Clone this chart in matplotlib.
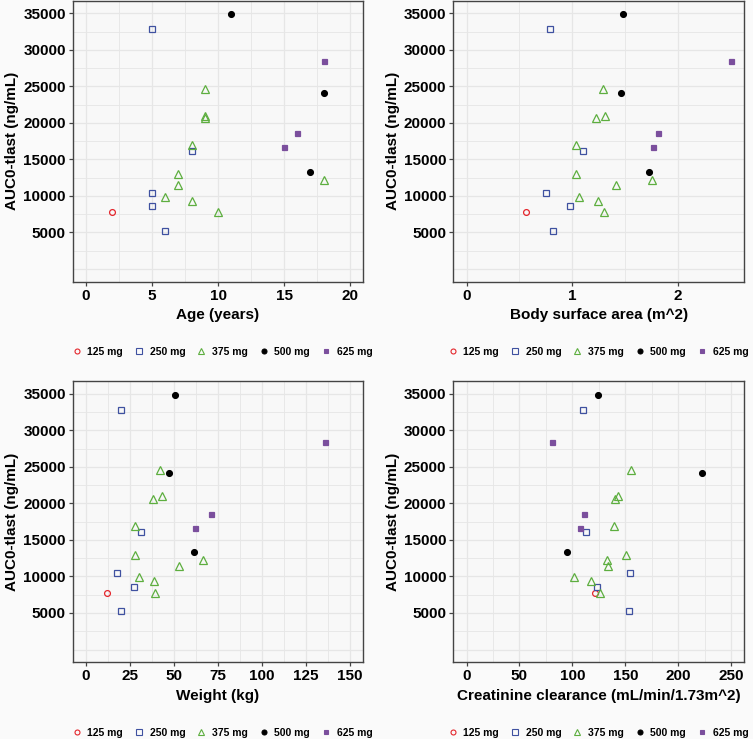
import numpy as np
import matplotlib
matplotlib.use('Agg')
import matplotlib.pyplot as plt
from matplotlib.lines import Line2D

# one entry per patient
dose = ['125 mg',
        '250 mg', '250 mg', '250 mg', '250 mg', '250 mg',
        '375 mg', '375 mg', '375 mg', '375 mg', '375 mg',
        '375 mg', '375 mg', '375 mg', '375 mg', '375 mg',
        '500 mg', '500 mg', '500 mg',
        '625 mg', '625 mg', '625 mg']
auc = [7750,
       32800, 10450, 8550, 5250, 16100,
       24600, 21000, 20600, 16900, 13000, 11450, 9900, 9350, 7800, 12200,
       34900, 24150, 13300,
       28450, 18600, 16650]
age = [2,
       5, 5, 5, 6, 8,
       9, 9, 9, 8, 7, 7, 6, 8, 10, 18,
       11, 18, 17,
       18, 16, 15]
bsa = [0.56,
       0.79, 0.75, 0.98, 0.82, 1.10,
       1.29, 1.31, 1.22, 1.03, 1.03, 1.41, 1.06, 1.24, 1.30, 1.75,
       1.48, 1.46, 1.72,
       2.50, 1.81, 1.76]
weight = [11.7,
          20.0, 17.4, 27.4, 20.2, 31.0,
          41.8, 43.1, 38.0, 27.8, 28.0, 52.7, 29.9, 38.4, 39.3, 66.5,
          50.8, 47.0, 61.6,
          136.0, 70.8, 62.2]
crcl = [121.6,
        110.0, 154.4, 123.1, 153.2, 113.1,
        155.4, 142.9, 140.4, 139.1, 151.0, 133.8, 101.5, 117.5, 126.3, 132.5,
        124.4, 222.4, 95.2,
        81.1, 111.2, 106.8]

dose_levels = ['125 mg', '250 mg', '375 mg', '500 mg', '625 mg']
colors = ['#E4262C', '#3F51A0', '#5DAE3F', '#000000', '#7B4F9D']
markers = ['o', 's', '^', 'o', 's']
filled = [False, False, False, True, True]
msize = [4.2, 4.6, 5.2, 4.2, 3.6]

panels = [
    (age, 'Age (years)', (-1, 21), [0, 5, 10, 15, 20], 2.5),
    (bsa, 'Body surface area (m^2)', (-0.125, 2.625), [0, 1, 2], 0.5),
    (weight, 'Weight (kg)', (-7.5, 157.5), [0, 25, 50, 75, 100, 125, 150], 12.5),
    (crcl, 'Creatinine clearance (mL/min/1.73m^2)', (-12.5, 262.5), [0, 50, 100, 150, 200, 250], 25),
]

W, H = 753, 739
fig = plt.figure(figsize=(W / 100, H / 100), dpi=100, facecolor='#FAFAFA')

# axes boxes in pixels: left, top, right, bottom
boxes = [(72.7, 0.5, 363.3, 281.7), (453.3, 0.5, 744.3, 281.7),
         (72.7, 381, 363.3, 662.3), (453.3, 381, 744.3, 662.3)]
legend_y = [351.7, 733.0]
legend_x = [222, 598]

auc = np.array(auc)
dose = np.array(dose)

for i, (xv, xlabel, xlim, xticks, minor_step) in enumerate(panels):
    l, t, r, b = boxes[i]
    ax = fig.add_axes([l / W, 1 - b / H, (r - l) / W, (b - t) / H])
    ax.set_facecolor('#F8F8F8')
    xv = np.array(xv)

    # grid
    for gx in np.arange(xticks[0], xticks[-1] + 1e-9, minor_step):
        ax.axvline(gx, color='#E6E6E6', lw=0.9 if np.isclose(gx % (2 * minor_step), 0) else 0.6, zorder=0)
    for gy in np.arange(0, 35001, 2500):
        ax.axhline(gy, color='#E6E6E6', lw=0.9 if gy % 5000 == 0 else 0.6, zorder=0)

    for lvl, c, m, f, ms in zip(dose_levels, colors, markers, filled, msize):
        sel = dose == lvl
        ax.plot(xv[sel], auc[sel], linestyle='none', marker=m, markersize=ms,
                markeredgecolor=c, markerfacecolor=c if f else 'none',
                markeredgewidth=0.9, zorder=3)

    ax.set_xlim(xlim)
    ax.set_ylim(-1750, 36750)
    ax.set_xticks(xticks)
    ax.set_xticklabels([str(v) for v in xticks])
    ax.set_yticks(range(5000, 35001, 5000))
    for s in ax.spines.values():
        s.set_color('#444444')
        s.set_linewidth(1.0)
    ax.tick_params(length=3, width=0.9, color='#444444', pad=2,
                   labelsize=11, labelcolor='black')
    for lab in ax.get_xticklabels() + ax.get_yticklabels():
        lab.set_fontweight('bold')
        lab.set_fontfamily('Liberation Sans')
    ax.set_xlabel(xlabel, fontsize=11, fontweight='bold', family='Liberation Sans', labelpad=4)
    ax.set_ylabel('AUC0-tlast (ng/mL)', fontsize=11, fontweight='bold', family='Liberation Sans', labelpad=3)

    handles = [Line2D([], [], linestyle='none', marker=m, markersize=ms * 0.85,
                      markeredgecolor=c, markerfacecolor=c if f else 'none',
                      markeredgewidth=0.8, label=lvl)
               for lvl, c, m, f, ms in zip(dose_levels, colors, markers, filled, msize)]
    fig.legend(handles=handles, loc='center',
               bbox_to_anchor=(legend_x[i % 2] / W, 1 - legend_y[i // 2] / H),
               ncol=5, frameon=False, handlelength=1.0, handletextpad=0.5,
               columnspacing=1.05, borderpad=0.1,
               prop={'family': 'Liberation Sans', 'weight': 'bold', 'size': 7.5})

fig.savefig('out.png', dpi=100, facecolor=fig.get_facecolor())
